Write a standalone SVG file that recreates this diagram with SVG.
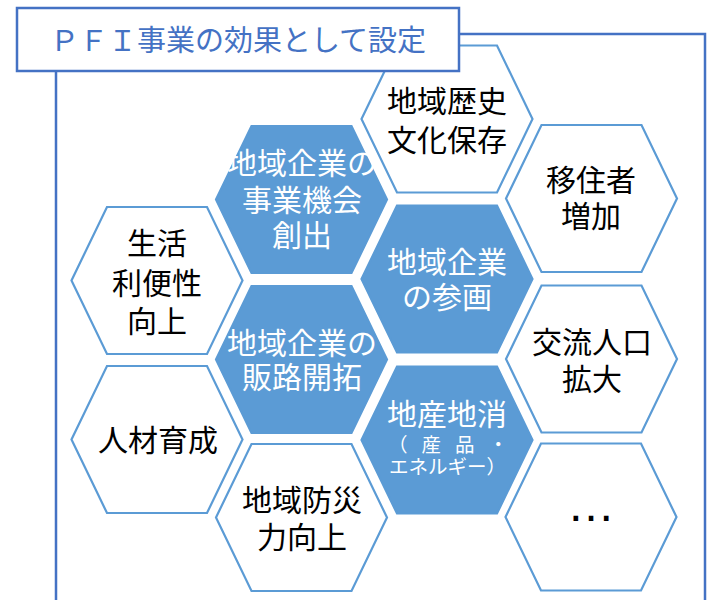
<svg xmlns="http://www.w3.org/2000/svg" width="707" height="600" viewBox="0 0 707 600">
<style>
.hw{fill:#ffffff;stroke:#5B9BD5;stroke-width:2.2}
.hb{fill:#5B9BD5;stroke:#5B9BD5;stroke-width:2.2}
.t{font-family:"Noto Sans CJK JP","Noto Sans CJK SC",sans-serif;font-size:30px;text-anchor:middle}
.tk{fill:#000000}
.tw{fill:#ffffff}
.s{font-family:"Noto Sans CJK JP","Noto Sans CJK SC",sans-serif;font-size:19.5px;fill:#ffffff}
.frame{fill:none;stroke:#4472C4;stroke-width:2.5}
</style>
<defs>
<polygon id="hex" points="-85.5,0 -50,-73.5 50,-73.5 85.5,0 50,73.5 -50,73.5"/>
</defs>
<g id="frame"><rect class="frame" x="56" y="34" width="649" height="600"/></g>
<g id="connectors"></g>
<g id="n-rekishi"><use href="#hex" class="hw" x="447" y="119"/><text class="t tk" x="447"><tspan x="447" y="111.5">地域歴史</tspan><tspan x="447" y="151">文化保存</tspan></text></g>
<g id="n-ijusha"><use href="#hex" class="hw" x="591.5" y="198.5"/><text class="t tk"><tspan x="591" y="191">移住者</tspan><tspan x="591" y="226.5">増加</tspan></text></g>
<g id="n-jigyo"><use href="#hex" class="hb" x="301.5" y="199.5"/><text class="t tw"><tspan x="302" y="173.5">地域企業の</tspan><tspan x="302" y="210.5">事業機会</tspan><tspan x="302" y="246">創出</tspan></text></g>
<g id="n-sankaku"><use href="#hex" class="hb" x="447" y="279"/><text class="t tw"><tspan x="447" y="272.5">地域企業</tspan><tspan x="447" y="308">の参画</tspan></text></g>
<g id="n-seikatsu"><use href="#hex" class="hw" x="157" y="280.5"/><text class="t tk"><tspan x="157" y="253.5">生活</tspan><tspan x="157" y="294">利便性</tspan><tspan x="157" y="331.5">向上</tspan></text></g>
<g id="n-hanro"><use href="#hex" class="hb" x="301.5" y="359.5"/><text class="t tw"><tspan x="302" y="353.5">地域企業の</tspan><tspan x="302" y="387.5">販路開拓</tspan></text></g>
<g id="n-koryu"><use href="#hex" class="hw" x="591.5" y="359"/><text class="t tk"><tspan x="592" y="352.5">交流人口</tspan><tspan x="592" y="390">拡大</tspan></text></g>
<g id="n-jinzai"><use href="#hex" class="hw" x="157" y="439.5"/><text class="t tk" x="158" y="451">人材育成</text></g>
<g id="n-chisan"><use href="#hex" class="hb" x="447" y="440"/><text class="t tw" x="447" y="424.5">地産地消</text><text class="s" x="388" y="452" textLength="120" lengthAdjust="spacing">（ 産 品 ・</text><text class="s" x="447.5" y="473.5" text-anchor="middle">エネルギー）</text></g>
<g id="n-bosai"><use href="#hex" class="hw" x="301.5" y="517.5"/><text class="t tk"><tspan x="302" y="510.5">地域防災</tspan><tspan x="302" y="547.5">力向上</tspan></text></g>
<g id="n-etc"><use href="#hex" class="hw" x="591" y="517"/><text x="591" y="521" text-anchor="middle" style="font-family:'Liberation Sans',sans-serif;font-size:48px;fill:#000000">…</text></g>
<g id="n-title"><rect x="17" y="8" width="442" height="63" fill="#ffffff" stroke="#4472C4" stroke-width="2.5"/><text x="238" y="51" text-anchor="middle" style="font-family:'Noto Sans CJK JP','Noto Sans CJK SC',sans-serif;font-size:29px;fill:#4472C4">ＰＦＩ事業の効果として設定</text></g>
</svg>
